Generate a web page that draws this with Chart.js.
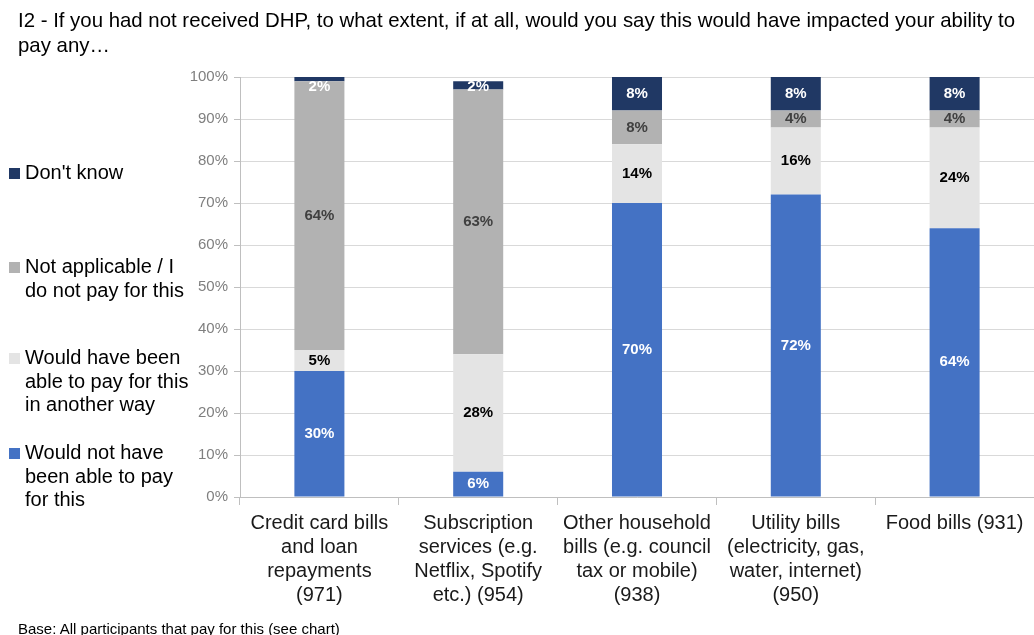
<!DOCTYPE html>
<html>
<head>
<meta charset="utf-8">
<script src="https://cdn.jsdelivr.net/npm/chart.js@4.4.1/dist/chart.umd.min.js"></script>
<style>
    body { margin: 0; background: #fff; font-family: "Liberation Sans", Arial, sans-serif; }
    #wrap { position: relative; width: 1034px; height: 635px; overflow: hidden; }
    #chart_box { position: absolute; left: 0; top: 0; width: 1034px; height: 635px; }
    #title { position: absolute; left: 18px; top: 8px; font-size: 20.4px; line-height: 25px; color: #000; white-space: nowrap; }
    #legend { position: absolute; left: 9px; top: 0; font-size: 20px; line-height: 23.7px; color: #000; }
    .leg { position: absolute; left: 0; white-space: nowrap; }
    .leg i { position: absolute; left: 0; width: 11px; height: 11px; }
    .leg span { position: absolute; left: 16px; top: 0; }
    #footer { position: absolute; left: 18px; top: 620px; font-size: 15px; color: #000; white-space: nowrap; }
</style>
</head>
<body>
<div id="wrap">
    <div id="chart_box"><canvas id="dhp_chart"></canvas></div>
    <div id="title">I2 - If you had not received DHP, to what extent, if at all, would you say this would have impacted your ability to<br>pay any…</div>
    <div id="legend"></div>
    <div id="footer">Base: All participants that pay for this (see chart)</div>
</div>
<script>
var categories = [
    ["Credit card bills", "and loan", "repayments", "(971)"],
    ["Subscription", "services (e.g.", "Netflix, Spotify", "etc.) (954)"],
    ["Other household", "bills (e.g. council", "tax or mobile)", "(938)"],
    ["Utility bills", "(electricity, gas,", "water, internet)", "(950)"],
    ["Food bills (931)"]
];
var wouldNot = [30, 6, 70, 72, 64];
var anotherWay = [5, 28, 14, 16, 24];
var notApplicable = [64, 63, 8, 4, 4];
var dontKnow = [2, 2, 8, 8, 8];
var yTicks = [0, 10, 20, 30, 40, 50, 60, 70, 80, 90, 100];

var seriesNames = [
    ["Would not have", "been able to pay", "for this"],
    ["Would have been", "able to pay for this", "in another way"],
    ["Not applicable / I", "do not pay for this"],
    ["Don't know"]
];
var seriesColors = ["#4472C4", "#E4E4E4", "#B2B2B2", "#203864"];
var labelColors = ["#ffffff", "#000000", "#404040", "#ffffff"];
var legendTops = [441, 346, 255, 161];

function buildLegend(){
    var box = document.getElementById("legend");
    for (var i = 0; i < seriesNames.length; i++){
        var row = document.createElement("div");
        row.className = "leg";
        row.style.top = legendTops[i] + "px";
        var sq = document.createElement("i");
        sq.style.background = seriesColors[i];
        sq.style.top = "7px";
        var txt = document.createElement("span");
        txt.innerHTML = seriesNames[i].join("<br>");
        row.appendChild(sq);
        row.appendChild(txt);
        box.appendChild(row);
    }
}

// value labels centred in each segment
var segmentLabels = {
    id: "segmentLabels",
    afterDatasetsDraw: function(chart){
        var ctx = chart.ctx;
        var area = chart.chartArea;
        ctx.save();
        ctx.font = "bold 15px 'Liberation Sans', Arial, sans-serif";
        ctx.textAlign = "center";
        ctx.textBaseline = "middle";
        chart.data.datasets.forEach(function(ds, di){
            var meta = chart.getDatasetMeta(di);
            meta.data.forEach(function(bar, i){
                var p = bar.getProps(["x", "y", "base"], true);
                var top = Math.max(p.y, area.top);
                var cy = (top + p.base) / 2;
                if (cy < area.top + 10) cy = area.top + 10;
                ctx.fillStyle = labelColors[di];
                ctx.fillText(ds.data[i] + "%", p.x, cy);
            });
        });
        ctx.restore();
    }
};

function drawchart(){
    var ctx = document.getElementById("dhp_chart").getContext('2d');
    var values = [wouldNot, anotherWay, notApplicable, dontKnow];
    var datasets = [];
    for (var i = 0; i < values.length; i++){
        datasets.push({
            label: seriesNames[i].join(" "),
            data: values[i],
            backgroundColor: seriesColors[i],
            borderWidth: 0,
            barPercentage: 0.63,
            categoryPercentage: 0.5
        });
    }
    new Chart(ctx, {
        type: 'bar',
        data: { labels: categories, datasets: datasets },
        plugins: [segmentLabels],
        options: {
            responsive: true,
            maintainAspectRatio: false,
            animation: false,
            layout: { padding: { left: 180, top: 77, right: 0, bottom: 0 } },
            plugins: {
                legend: { display: false },
                tooltip: { enabled: false }
            },
            scales: {
                x: {
                    stacked: true,
                    grid: { display: true, drawOnChartArea: false, offset: true, tickLength: 8, color: "#BFBFBF" },
                    border: { color: "#BFBFBF" },
                    ticks: {
                        color: "#1a1a1a",
                        padding: 6,
                        maxRotation: 0,
                        autoSkip: false,
                        font: { family: "'Liberation Sans', Arial, sans-serif", size: 20, lineHeight: 1.2 }
                    },
                    afterFit: function(scale){ scale.height = 138; }
                },
                y: {
                    stacked: true,
                    min: 0,
                    max: 100,
                    afterBuildTicks: function(scale){
                        scale.ticks = yTicks.map(function(v){ return { value: v }; });
                    },
                    grid: { color: "#D9D9D9", tickLength: 6, tickColor: "#BFBFBF" },
                    border: { color: "#BFBFBF" },
                    ticks: {
                        color: "#7F7F7F",
                        padding: 6,
                        font: { family: "'Liberation Sans', Arial, sans-serif", size: 15 },
                        callback: function(v){ return v + "%"; }
                    },
                    afterFit: function(scale){ scale.width = 60; }
                }
            }
        }
    });
}

buildLegend();
drawchart();
</script>
</body>
</html>
